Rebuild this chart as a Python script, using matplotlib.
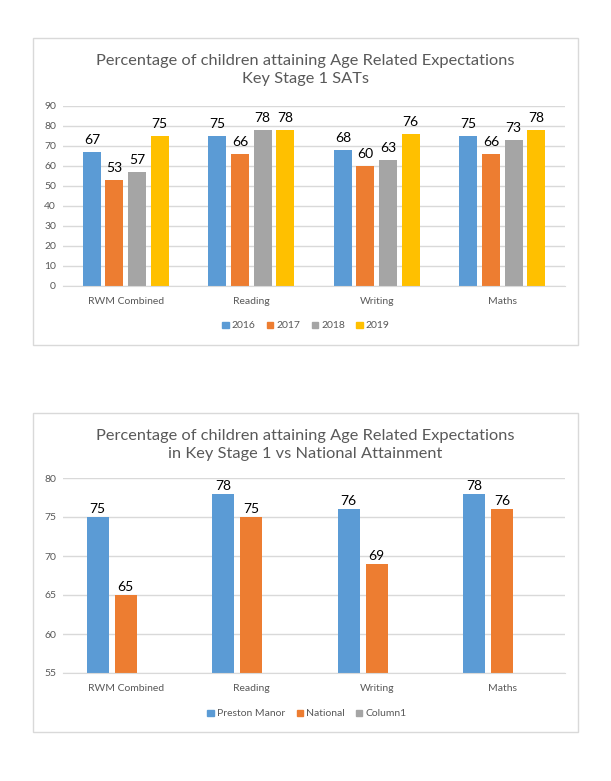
import numpy as np
import matplotlib
matplotlib.use("Agg")
from matplotlib import pyplot as plt
from matplotlib.patches import Patch, Rectangle

plt.rcParams['font.family'] = ['Lato', 'DejaVu Sans']

# data
categories = ["RWM Combined", "Reading", "Writing", "Maths"]
years = ["2016", "2017", "2018", "2019"]
school_by_year = [
    [67, 75, 68, 75],   # 2016
    [53, 66, 60, 66],   # 2017
    [57, 78, 63, 73],   # 2018
    [75, 78, 76, 78],   # 2019
]
series2 = ["Preston Manor", "National", "Column1"]
preston_manor = [75, 78, 76, 78]
national = [65, 75, 69, 76]
column1 = [None, None, None, None]

title1 = "Percentage of children attaining Age Related Expectations\nKey Stage 1 SATs"
title2 = "Percentage of children attaining Age Related Expectations\nin Key Stage 1 vs National Attainment"

COLORS = ["#5B9BD5", "#ED7D31", "#A5A5A5", "#FFC000"]
TEXT = "#595959"
GRID = "#D9D9D9"

W, H = 611, 781
fig = plt.figure(figsize=(W / 100, H / 100), dpi=100)


def px_axes(left, top, right, bottom):
    # pixel box (image coords) -> axes
    return fig.add_axes([left / W, 1 - bottom / H, (right - left) / W, (bottom - top) / H])


def frame(left, top, right, bottom):
    fig.patches.append(Rectangle((left / W, 1 - bottom / H), (right - left) / W, (bottom - top) / H,
                                 transform=fig.transFigure, fill=False, edgecolor=GRID, lw=1))


def style_axes(ax, ymin, ymax, step):
    ax.set_xlim(-0.5, len(categories) - 0.5)
    ax.set_ylim(ymin, ymax)
    ax.set_yticks(np.arange(ymin, ymax + 1, step))
    ax.set_xticks(range(len(categories)))
    ax.set_xticklabels(categories)
    ax.tick_params(length=0, labelsize=7.5, labelcolor=TEXT)
    ax.tick_params(axis='x', pad=8)
    ax.tick_params(axis='y', pad=5)
    for s in ["top", "right", "left"]:
        ax.spines[s].set_visible(False)
    ax.spines["bottom"].set_color(GRID)
    ax.grid(axis='y', color=GRID, lw=1)
    ax.set_axisbelow(True)


def label_bars(ax, bars, vals, offset):
    for b, v in zip(bars, vals):
        if v is None:
            continue
        ax.annotate(str(v), (b.get_x() + b.get_width() / 2, v), xytext=(0, offset),
                    textcoords="offset points", ha="center", va="bottom",
                    fontsize=10, color="black")


# top chart
frame(33, 38, 578, 345)
ax1 = px_axes(63, 106, 565, 286)
x = np.arange(len(categories))
w1, step1 = 0.143, 0.18
for i, (yr, vals) in enumerate(zip(years, school_by_year)):
    bars = ax1.bar(x + (i - 1.5) * step1, vals, w1, color=COLORS[i], label=yr)
    label_bars(ax1, bars, vals, 4.5)
style_axes(ax1, 0, 90, 10)
fig.text(305 / W, 1 - 70 / H, title1, ha="center", va="center", fontsize=11.8,
         color=TEXT, linespacing=1.45)
h1 = [Patch(color=COLORS[i]) for i in range(4)]
fig.legend(h1, years, loc="center", bbox_to_anchor=(306 / W, 1 - 326 / H), ncol=4,
           frameon=False, fontsize=7.5, labelcolor=TEXT, handlelength=0.6, handleheight=0.6,
           handletextpad=0.3, columnspacing=1.1)

# bottom chart
frame(33, 413, 578, 732)
ax2 = px_axes(63, 478, 565, 673)
w2, step2 = 0.175, 0.223
for i, (name, vals) in enumerate(zip(series2, [preston_manor, national, column1])):
    v = [np.nan if a is None else a for a in vals]
    bars = ax2.bar(x + (i - 1) * step2, v, w2, color=COLORS[i], label=name)
    label_bars(ax2, bars, vals, 1.5)
style_axes(ax2, 55, 80, 5)
fig.text(305 / W, 1 - 445 / H, title2, ha="center", va="center", fontsize=11.8,
         color=TEXT, linespacing=1.45)
h2 = [Patch(color=COLORS[i]) for i in range(3)]
fig.legend(h2, series2, loc="center", bbox_to_anchor=(307 / W, 1 - 714 / H), ncol=3,
           frameon=False, fontsize=7.5, labelcolor=TEXT, handlelength=0.6, handleheight=0.6,
           handletextpad=0.3, columnspacing=1.1)

fig.savefig("out.png", dpi=100)
